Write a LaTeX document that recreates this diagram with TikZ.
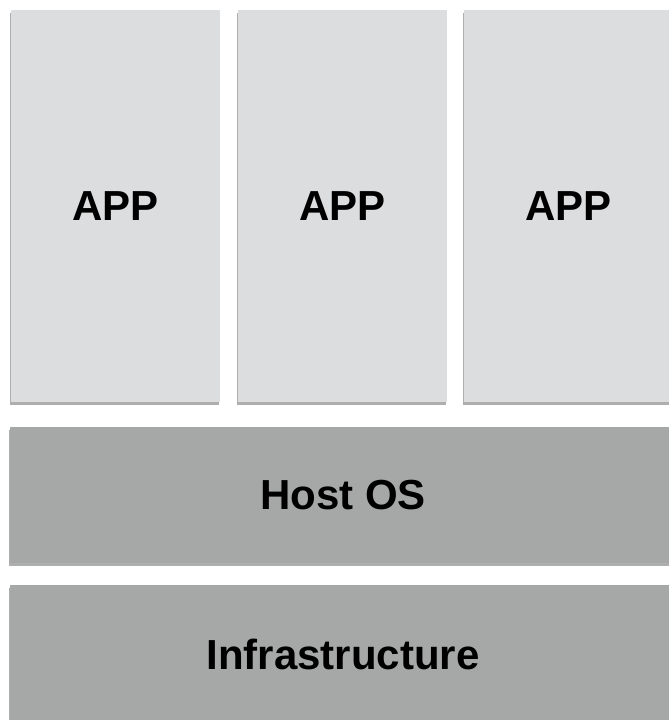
\documentclass[tikz,border=0pt]{standalone}
\usepackage{fontspec}
\setmainfont{Liberation Sans}
\usetikzlibrary{shadows}

\definecolor{appgray}{HTML}{DCDDDF}
\definecolor{osgray}{HTML}{A5A8A6}

\begin{document}
\begin{tikzpicture}[x=1pt,y=-1pt,
    layer/.style={rectangle, inner sep=0pt, font=\fontsize{42}{48}\selectfont\bfseries,
        drop shadow={shadow xshift=-1.5pt, shadow yshift=-2.5pt, opacity=0.45, fill=black!70}},
    app/.style={layer, fill=appgray, minimum width=209pt, minimum height=392pt},
    os/.style={layer, fill=osgray, minimum width=666pt, minimum height=136pt}]
        \useasboundingbox (0,0) rectangle (669,720);
        \clip (0,0) rectangle (669,720);

        \node[app] (app1) at (115.5,206) {APP};
        \node[app] (app2) at (342.5,206) {APP};
        \node[app] (app3) at (568.5,206) {APP};

        \node[os] (host) at (343,495) {Host OS};
        \node[os, minimum height=138pt] (infra) at (343,654) {Infrastructure};
    \end{tikzpicture}
\end{document}
